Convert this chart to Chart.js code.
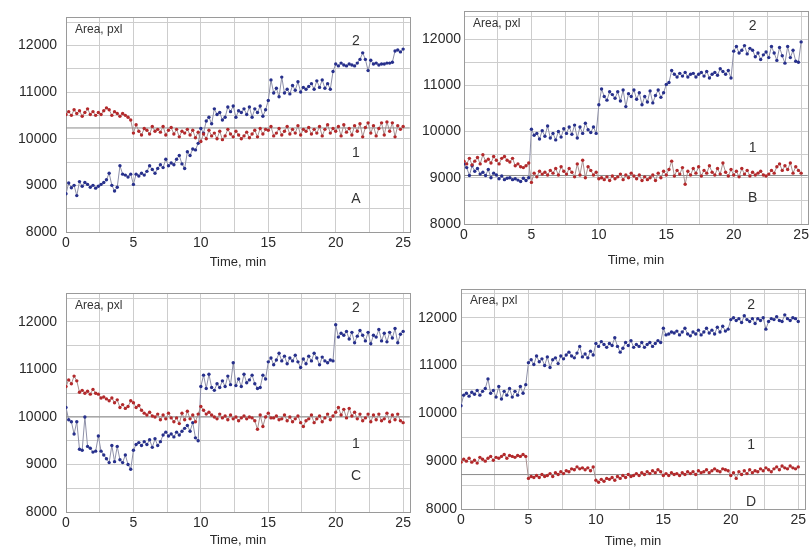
<!DOCTYPE html>
<html>
<head>
<meta charset="utf-8">
<title>Area, pxl vs time</title>
<script src="https://cdn.jsdelivr.net/npm/chart.js@4.4.1/dist/chart.umd.min.js"></script>
<style>
  body { margin: 0; background: #fff; }
  #wrap { position: relative; width: 812px; height: 553px; overflow: hidden; }
  canvas { position: absolute; }
</style>
</head>
<body>
<div id="wrap">
  <canvas id="chartA" width="414" height="276" style="left:0;top:0"></canvas>
  <canvas id="chartB" width="406" height="276" style="left:406px;top:0"></canvas>
  <canvas id="chartC" width="414" height="277" style="left:0;top:276px"></canvas>
  <canvas id="chartD" width="406" height="277" style="left:406px;top:276px"></canvas>
</div>
<script>
// sampling: one reading every 0.2 min, 0..25 min
var sampleStep = 0.2;

// grid positions and the ones that get a number
var xGridValues = [0, 2.5, 5, 7.5, 10, 12.5, 15, 17.5, 20, 22.5, 25];
var xLabelValues = [0, 5, 10, 15, 20, 25];
var yGridValues = [8000, 8500, 9000, 9500, 10000, 10500, 11000, 11500, 12000, 12500];
var yLabelValues = [8000, 9000, 10000, 11000, 12000];

// curve 1 (red) and curve 2 (blue) for each panel
var areaA1 = [
  10520, 10580, 10500, 10620, 10540, 10600, 10480, 10560, 10640, 10520,
  10580, 10500, 10560, 10520, 10600, 10660, 10620, 10500, 10580, 10540,
  10480, 10540, 10500, 10460, 10400, 10120, 10300, 10160, 10080, 10220,
  10180, 10100, 10260, 10160, 10200, 10140, 10260, 10080, 10180, 10240,
  10100, 10200, 10040, 10160, 10120, 10200, 10080, 10180, 10020, 10140,
  9940, 10100, 10000, 10180, 10060, 10120, 10000, 10160, 9980, 10060,
  10200, 10100, 10040, 10160, 10080, 10000, 10060, 10140, 10020, 10100,
  10180, 10040, 10220, 10100, 10200, 10180, 10260, 10060, 10120, 10220,
  10080, 10160, 10260, 10100, 10200, 10120, 10280, 10080, 10200, 10160,
  10240, 10100, 10200, 10120, 10260, 10060, 10200, 10300, 10120, 10220,
  10160, 10260, 10060, 10300, 10140, 10220, 10080, 10280, 10160, 10320,
  10040, 10240, 10340, 10120, 10280, 10060, 10220, 10340, 10080, 10360,
  10160, 10340, 10040, 10280, 10200, 10260
];
var areaA2 = [
  8820, 9050, 8950, 9000, 8780, 9080, 8980, 9060, 9020, 8960,
  9000, 8940, 8980, 9020, 9060, 9120, 9260, 9000, 8880, 8960,
  9420, 9240, 9220, 9180, 9240, 9020, 9240, 9200, 9260, 9220,
  9300, 9420, 9340, 9260, 9360, 9440, 9380, 9560, 9420, 9480,
  9440, 9560, 9640, 9460, 9360, 9720, 9640, 9780, 9760, 9900,
  10220, 10120, 10380, 10460, 10320, 10640, 10520, 10560, 10400, 10460,
  10680, 10580, 10700, 10460, 10600, 10560, 10640, 10520, 10680, 10460,
  10640, 10560, 10700, 10480, 10620, 10820, 11260, 10980, 11080, 10900,
  11320, 10980, 11060, 10960, 11140, 11040, 11220, 11000, 11100, 11060,
  11120, 11180, 11060, 11240, 11100, 11260, 11080, 11180, 11060, 11440,
  11600, 11560, 11620, 11580, 11560, 11600, 11580, 11560, 11620, 11700,
  11840, 11700, 11460, 11680, 11600, 11620, 11580, 11600, 11600, 11620,
  11620, 11640, 11880, 11900, 11860, 11920
];
var areaB1 = [
  9360, 9300, 9420, 9280, 9360, 9440, 9300, 9500, 9360, 9400,
  9320, 9460, 9380, 9300, 9420, 9460, 9380, 9340, 9420, 9260,
  9300, 9240, 9220, 9260, 9320, 8900, 9100, 9020, 9140, 9080,
  9120, 9060, 9160, 9100, 9200, 9060, 9240, 9140, 9080, 9200,
  9120, 9020, 9300, 9060, 9380, 9000, 9240, 9160, 9060, 9120,
  8980, 9000, 8960, 9020, 8940, 9040, 8980, 9020, 9080, 8960,
  9060, 9000, 9100, 9040, 8980, 9060, 8940, 9020, 8960, 9000,
  9060, 8940, 9100, 9000, 9140, 9060, 9180, 9360, 9040, 9160,
  9080, 9220, 8860, 9140, 9060, 9200, 9100, 9240, 9040, 9160,
  9100, 9260, 9120, 9060, 9200, 9080, 9320, 9120, 9040, 9180,
  9060, 9140, 9020, 9200, 9080, 9160, 9040, 9120, 9060, 9100,
  9140, 9060, 9040, 9080, 9160, 9100, 9240, 9300, 9160, 9260,
  9180, 9320, 9100, 9240, 9160, 9100
];
var areaB2 = [
  9300, 9220, 9050, 9260, 9140, 9200, 9080, 9120, 9050, 9180,
  9000, 9100, 9060, 8980, 9040, 8960, 8990, 9000, 8960, 8980,
  8950, 8920, 8990, 8940, 9000, 10050, 9920, 9960, 9840, 10020,
  9900, 10120, 9860, 9960, 9820, 10000, 9880, 10060, 9960, 10100,
  9940, 10140, 9860, 10100, 9960, 10180, 10040, 9980, 10100, 9960,
  10580, 10920, 10760, 10680, 10860, 10800, 10720, 10860, 10660, 10900,
  10540, 10820, 10760, 10900, 10700, 10840, 10580, 10760, 10640, 10880,
  10620, 10780, 10900, 10740, 10840, 11020, 11060, 11320, 11240, 11180,
  11260, 11200, 11280, 11180, 11240, 11260, 11180, 11240, 11280, 11200,
  11300, 11160, 11240, 11280, 11220, 11360, 11300, 11240, 11320, 11160,
  11740, 11840, 11700, 11760, 11860, 11680, 11800, 11760, 11620, 11700,
  11560, 11660, 11720, 11600, 11840, 11700, 11540, 11820, 11640, 11480,
  11840, 11600, 11760, 11520, 11500, 11940
];
var areaC1 = [
  10640, 10780, 10700, 10860, 10760, 10520, 10560, 10500, 10540, 10480,
  10580, 10500, 10480, 10400, 10420, 10380, 10340, 10400, 10300, 10360,
  10200, 10260, 10180, 10220, 10340, 10300, 10200, 10240, 10140, 10080,
  10040, 10100, 10020, 10000, 10060, 9940, 10040, 9960, 10080, 9980,
  9900, 9980, 9860, 10080, 9940, 10120, 9960, 10040, 9900, 10060,
  10220, 10140, 10060, 10100, 10040, 10000, 9960, 10060, 9980, 10020,
  9940, 10040, 9960, 10000, 9920, 9980, 10020, 9960, 10000, 9980,
  9920, 9740, 10040, 9800, 10000, 10080, 9980, 9980, 10020, 9940,
  9960, 10040, 9920, 10000, 9900, 9960, 10020, 9880, 9800, 9920,
  9960, 10040, 9880, 9960, 10020, 9900, 9980, 10060, 9940, 10020,
  10100, 10200, 10040, 10160, 9980, 10180, 10020, 10100, 9960, 10060,
  9920, 9980, 10060, 9900, 10040, 9940, 10060, 9920, 9960, 10080,
  9900, 10040, 9940, 10060, 9920, 9880
];
var areaC2 = [
  10200, 9940, 9900, 9640, 9900, 9320, 9300, 10000, 9380, 9340,
  9260, 9280, 9600, 9280, 9200, 9120, 9040, 9400, 9060, 9380,
  9100, 9040, 9200, 9000, 8900, 9300, 9420, 9460, 9400, 9480,
  9420, 9520, 9360, 9540, 9400, 9480, 9620, 9680, 9600, 9640,
  9580, 9680, 9620, 9700, 9760, 9820, 9700, 9880, 9560, 9500,
  10640, 10880, 10600, 10900, 10620, 10560, 10700, 10620, 10760, 10640,
  10860, 10680, 11140, 10660, 10800, 10640, 10900, 10720, 10780, 10880,
  10700, 10600, 10620, 10880, 10800, 11160, 11240, 11100, 11200, 11340,
  11180, 11280, 11120, 11240, 11180, 11300, 11160, 11040, 11220, 11120,
  11280, 11180, 11340, 11240, 11100, 11260, 11180, 11140, 11200, 11180,
  11940, 11680, 11760, 11720, 11800, 11640, 11780, 11560, 11700, 11820,
  11720, 11600, 11780, 11540, 11720, 11680, 11840, 11600, 11760, 11580,
  11780, 11660, 11860, 11560, 11740, 11800
];
var areaD1 = [
  8980, 9040, 9000, 9060, 8980, 9020, 8960, 9080, 9040, 9000,
  9060, 9100, 9020, 9080, 9060, 9100, 9140, 9060, 9120, 9100,
  9080, 9120, 9100, 9140, 9100, 8640, 8680, 8660, 8700, 8660,
  8720, 8680, 8700, 8740, 8680, 8760, 8720, 8780, 8740, 8800,
  8780, 8840, 8820, 8880, 8840, 8860, 8820, 8860, 8800, 8880,
  8600, 8560, 8620, 8580, 8640, 8620, 8660, 8600, 8680, 8640,
  8700, 8660, 8720, 8680, 8700, 8740, 8700, 8760, 8720, 8780,
  8740, 8800, 8760, 8820, 8780, 8700, 8740, 8700, 8760, 8720,
  8740, 8700, 8760, 8720, 8780, 8740, 8780, 8720, 8800, 8760,
  8780, 8820, 8760, 8800, 8840, 8800, 8780, 8840, 8820, 8800,
  8700, 8760, 8640, 8780, 8720, 8800, 8740, 8820, 8760, 8800,
  8780, 8840, 8800, 8860, 8820, 8780, 8840, 8880, 8820, 8900,
  8860, 8840, 8900, 8860, 8840, 8880
];
var areaD2 = [
  10160, 10380, 10420, 10360, 10440, 10400, 10480, 10380, 10460, 10520,
  10720, 10420, 10480, 10340, 10560, 10300, 10460, 10380, 10520, 10340,
  10460, 10380, 10560, 10420, 10600, 11060, 11120, 11020, 11200, 11080,
  11140, 11000, 11180, 10960, 11120, 11160, 11040, 11200, 11140, 11220,
  11280, 11200, 11160, 11260, 11400, 11180, 11240, 11160, 11300, 11220,
  11460, 11400, 11500, 11440, 11380, 11460, 11420, 11580, 11400, 11280,
  11360, 11480, 11420, 11520, 11380, 11440, 11400, 11480, 11380, 11440,
  11480, 11400, 11460, 11520, 11480, 11780, 11640, 11660, 11700, 11680,
  11720, 11640, 11700, 11780, 11660, 11620, 11700, 11660, 11740, 11640,
  11700, 11780, 11680, 11740, 11660, 11800, 11700, 11820, 11720, 11760,
  11960, 12000, 11940, 11980, 11900, 12040, 11960, 11920, 11980, 11880,
  11980, 11940, 12000, 11760, 11920, 11980, 11960, 12020, 11940, 11920,
  12060, 11980, 11940, 12000, 11980, 11920
];

// mean level of curve 1 drawn as a darker horizontal line
var refLevels = [10230, 9050, 10000, 8720];

var times = areaA1.map(function (v, i) { return +(i * sampleStep).toFixed(1); });

var panels = [
  { id: "chartA", letter: "A", s1: areaA1, s2: areaA2, ref: refLevels[0],
    pad: { top: 8.5, right: 2 }, yWidth: 66, xHeight: 44, yTickPad: 9, titlePad: 6,
    marks: { t: 21.5, two: 12100, one: 9690, tag: 8700 } },
  { id: "chartB", letter: "B", s1: areaB1, s2: areaB2, ref: refLevels[1],
    pad: { top: 8.5, right: 4 }, yWidth: 58, xHeight: 52, yTickPad: 3, titlePad: 8,
    marks: { t: 21.4, two: 12290, one: 9640, tag: 8555 } },
  { id: "chartC", letter: "C", s1: areaC1, s2: areaC2, ref: refLevels[2],
    pad: { top: 11, right: 2 }, yWidth: 66, xHeight: 41, yTickPad: 9, titlePad: 5,
    marks: { t: 21.5, two: 12290, one: 9430, tag: 8750 } },
  { id: "chartD", letter: "D", s1: areaD1, s2: areaD2, ref: refLevels[3],
    pad: { top: 13, right: 7 }, yWidth: 55, xHeight: 44, yTickPad: 4, titlePad: 4,
    marks: { t: 21.5, two: 12265, one: 9340, tag: 8150 } }
];

// frame round the plot and the text placed inside it
var panelText = {
  id: "panelText",
  beforeDatasetsDraw: function (chart) {
    var a = chart.chartArea, ctx = chart.ctx;
    ctx.save();
    ctx.strokeStyle = "#9a9a9a";
    ctx.lineWidth = 1;
    ctx.strokeRect(Math.round(a.left) + 0.5, Math.round(a.top) + 0.5,
      Math.round(a.right - a.left), Math.round(a.bottom - a.top));
    ctx.restore();
  },
  afterDatasetsDraw: function (chart, args, opts) {
    var a = chart.chartArea, ctx = chart.ctx;
    var xs = chart.scales.x, ys = chart.scales.y;
    var m = opts.marks;
    ctx.save();
    ctx.fillStyle = "#333";
    ctx.textBaseline = "middle";
    ctx.font = "12px 'Liberation Sans', Arial, sans-serif";
    ctx.textAlign = "left";
    ctx.fillText("Area, pxl", a.left + 9, a.top + 12);
    ctx.font = "14px 'Liberation Sans', Arial, sans-serif";
    ctx.textAlign = "center";
    var px = xs.getPixelForValue(m.t);
    ctx.fillText("2", px, ys.getPixelForValue(m.two));
    ctx.fillText("1", px, ys.getPixelForValue(m.one));
    ctx.fillText(opts.letter, px, ys.getPixelForValue(m.tag));
    ctx.restore();
  }
};

function isLabelled(list, v) {
  return list.some(function (x) { return Math.abs(x - v) < 1e-6; });
}

function asTicks(list) {
  return list.map(function (v) { return { value: v }; });
}

panels.forEach(function (p) {
  new Chart(p.id, {
    type: "line",
    data: {
      labels: times,
      datasets: [
        {
          data: p.s2,
          borderColor: "#8e90a8",
          borderWidth: 1,
          pointRadius: 1.7,
          pointBorderWidth: 0,
          pointBackgroundColor: "#27308c",
          order: 1
        },
        {
          data: p.s1,
          borderColor: "#a89090",
          borderWidth: 1,
          pointRadius: 1.7,
          pointBorderWidth: 0,
          pointBackgroundColor: "#b3292b",
          order: 0
        },
        {
          data: [{ x: 0, y: p.ref }, { x: 25.5, y: p.ref }],
          borderColor: "#8a8a8a",
          borderWidth: 1,
          pointRadius: 0,
          order: 5
        }
      ]
    },
    options: {
      responsive: false,
      animation: false,
      devicePixelRatio: 1,
      layout: { padding: { left: 0, top: p.pad.top, right: p.pad.right, bottom: 0 } },
      plugins: {
        legend: { display: false },
        tooltip: { enabled: false },
        panelText: { marks: p.marks, letter: p.letter }
      },
      scales: {
        x: {
          type: "linear",
          min: 0,
          max: 25.5,
          border: { display: false },
          grid: { color: "#cdcdcd", drawTicks: false },
          afterBuildTicks: function (s) { s.ticks = asTicks(xGridValues); },
          ticks: {
            autoSkip: false,
            maxRotation: 0,
            padding: 3,
            color: "#2a2a2a",
            font: { family: "'Liberation Sans', Arial, sans-serif", size: 14 },
            callback: function (v) { return isLabelled(xLabelValues, v) ? String(v) : ""; }
          },
          title: {
            display: true,
            text: "Time, min",
            color: "#2a2a2a",
            padding: { top: 0, bottom: p.titlePad },
            font: { family: "'Liberation Sans', Arial, sans-serif", size: 13 }
          },
          afterFit: function (s) { s.height = p.xHeight; }
        },
        y: {
          min: 8000,
          max: 12600,
          border: { display: false },
          grid: { color: "#cdcdcd", drawTicks: false },
          afterBuildTicks: function (s) { s.ticks = asTicks(yGridValues); },
          ticks: {
            autoSkip: false,
            padding: p.yTickPad,
            color: "#2a2a2a",
            font: { family: "'Liberation Sans', Arial, sans-serif", size: 14 },
            callback: function (v) { return isLabelled(yLabelValues, v) ? String(v) : ""; }
          },
          afterFit: function (s) { s.width = p.yWidth; }
        }
      }
    },
    plugins: [panelText]
  });
});
</script>
</body>
</html>
